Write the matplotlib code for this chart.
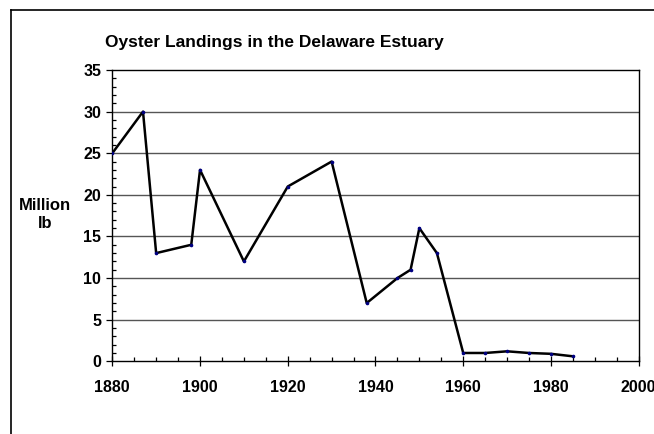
import matplotlib.pyplot as plt
from matplotlib.lines import Line2D
from matplotlib.ticker import MultipleLocator

# Landings (million lb)
years = [1880, 1887, 1890, 1898, 1900, 1910, 1920, 1930, 1938, 1945, 1948,
         1950, 1954, 1960, 1965, 1970, 1975, 1980, 1985]
landings = [25, 30, 13, 14, 23, 12, 21, 24, 7, 10, 11,
            16, 13, 1.0, 1.0, 1.2, 1.0, 0.9, 0.6]
x_ticks = [1880, 1900, 1920, 1940, 1960, 1980, 2000]
y_ticks = [0, 5, 10, 15, 20, 25, 30, 35]

plt.rcParams['font.family'] = ['Liberation Sans', 'DejaVu Sans']

fig = plt.figure(figsize=(6.54, 4.34), dpi=100)
ax = fig.add_axes([0.1717, 0.1675, 0.8049, 0.6712])

# chart frame (cropped on the right and bottom)
fig.add_artist(Line2D([0.0168, 0.0168], [0.0, 0.977], transform=fig.transFigure,
                      color='black', lw=1.2))
fig.add_artist(Line2D([0.0168, 1.0], [0.977, 0.977], transform=fig.transFigure,
                      color='black', lw=1.2))

ax.plot(years, landings, color='black', lw=1.8, marker='o', markersize=1.6,
        markerfacecolor='#000080', markeredgecolor='#000080', zorder=3)

ax.set_xlim(1880, 2000)
ax.set_ylim(0, 35)
ax.set_xticks(x_ticks)
ax.set_yticks(y_ticks)
ax.xaxis.set_minor_locator(MultipleLocator(5))
ax.yaxis.set_minor_locator(MultipleLocator(1))

for y in y_ticks[1:-1]:
    ax.axhline(y, color='#555555', lw=1.0, zorder=1)

for s in ax.spines.values():
    s.set_linewidth(1.0)
    s.set_color('black')

ax.tick_params(axis='x', which='major', direction='inout', length=7.5, width=0.9,
               labelsize=11.5, pad=10)
ax.tick_params(axis='x', which='minor', direction='in', length=3, width=0.9)
ax.tick_params(axis='y', which='major', direction='out', length=4, width=0.9,
               labelsize=11.5, pad=4)
ax.tick_params(axis='y', which='minor', direction='in', length=3, width=0.9)
for lab in ax.get_xticklabels() + ax.get_yticklabels():
    lab.set_fontweight('bold')

fig.text(0.069, 0.505, 'Million\nlb', ha='center', va='center', fontsize=12,
         fontweight='bold', linespacing=1.25)
fig.text(0.42, 0.903, 'Oyster Landings in the Delaware Estuary', ha='center',
         va='center', fontsize=12.5, fontweight='bold')

fig.savefig('out.png', dpi=100)
